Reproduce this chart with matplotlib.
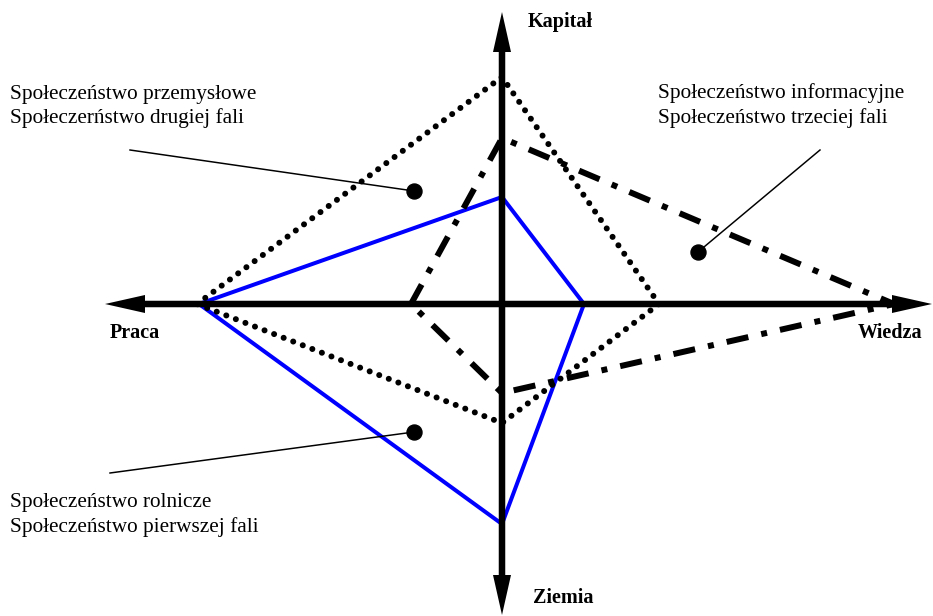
import matplotlib
matplotlib.use("Agg")
import matplotlib.pyplot as plt
import numpy as np

plt.rcParams["font.family"] = ["Liberation Serif", "DejaVu Serif"]

# kierunki osi: Praca (lewo), Kapitał (góra), Wiedza (prawo), Ziemia (dół)
axis_names = ["Praca", "Kapitał", "Wiedza", "Ziemia"]

# wartości na osiach dla trzech typów społeczeństw
rolnicze = [303, 107, 82, 220]
przemyslowe = [305, 227, 157, 119]
informacyjne = [91, 166, 392, 89]

notes_tl = ["Społeczeństwo przemysłowe", "Społeczerństwo drugiej fali"]
notes_tr = ["Społeczeństwo informacyjne", "Społeczeństwo trzeciej fali"]
notes_bl = ["Społeczeństwo rolnicze", "Społeczeństwo pierwszej fali"]

PX = 0.72  # px -> pt at dpi 100


def diamond(v):
    p, k, w, z = v
    xs = [-p, 0, w, 0, -p]
    ys = [0, k, 0, -z, 0]
    return xs, ys


fig = plt.figure(figsize=(9.33, 6.16), dpi=100)
ax = fig.add_axes([0, 0, 1, 1])
ax.set_xlim(-502, 431)
ax.set_ylim(-312, 304)
ax.axis("off")

xs, ys = diamond(rolnicze)
ax.plot(xs, ys, color="#0000ff", lw=4 * PX, solid_joinstyle="miter", zorder=2)

xs, ys = diamond(przemyslowe)
ax.plot(xs, ys, color="black", lw=6 * PX, linestyle=(0, (0.01, 1.7)),
        dash_capstyle="round", zorder=2)

xs, ys = diamond(informacyjne)
ax.plot(xs, ys, color="black", lw=6 * PX, linestyle=(0, (3.7, 2.2, 1.0, 2.2)),
        dash_capstyle="butt", zorder=2)

# osie ze strzałkami
tips = [(-397, 0), (0, 292), (430, 0), (0, -311)]
for tx, ty in tips:
    ax.arrow(0, 0, tx, ty, width=6.5, head_width=18, head_length=40,
             length_includes_head=True, color="black", lw=0, zorder=3)

lab_kw = dict(fontsize=14.5, fontweight="bold", va="baseline", ha="left")
ax.text(-392, -34, axis_names[0], **lab_kw)
ax.text(26, 277, axis_names[1], **lab_kw)
ax.text(356, -34, axis_names[2], **lab_kw)
ax.text(31, -299, axis_names[3], **lab_kw)

# opisy z liniami odniesienia
note_kw = dict(fontsize=15.3, va="baseline", ha="left")
ax.text(-492, 205, notes_tl[0], **note_kw)
ax.text(-492, 181, notes_tl[1], **note_kw)
ax.text(156, 206, notes_tr[0], **note_kw)
ax.text(156, 181, notes_tr[1], **note_kw)
ax.text(-492, -203, notes_bl[0], **note_kw)
ax.text(-492, -228, notes_bl[1], **note_kw)

leaders = [((-372, 154), (-88, 113)), ((318, 154), (196, 52)), ((-392, -169), (-88, -128))]
for (x0, y0), (x1, y1) in leaders:
    ax.plot([x0, x1], [y0, y1], color="black", lw=1.5 * PX, zorder=4)
    ax.plot(x1, y1, "o", color="black", ms=15 * PX, zorder=4)

plt.savefig("out.png", dpi=100)
